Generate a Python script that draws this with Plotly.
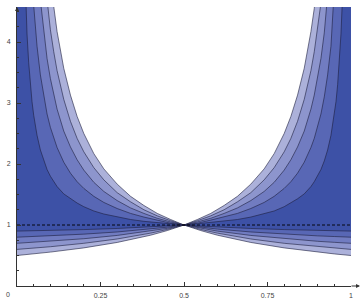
import plotly.graph_objects as go

# ---- data (left half; the chart is mirror-symmetric about x = 0.5) ----
LEVELS = [1.0, 0.8, 0.6, 0.4, 0.2]  # band labels, lightest (outer) to darkest (inner)

X_UP = [0, 0.01, 0.015, 0.02, 0.025, 0.03, 0.035, 0.04, 0.045, 0.05, 0.06, 0.07, 0.08,
        0.09, 0.10, 0.11, 0.12, 0.14, 0.16, 0.18, 0.20, 0.23, 0.26, 0.30, 0.34, 0.38,
        0.42, 0.46, 0.50]
UP_10 = [60, 50, 33.33, 25, 20, 16.67, 14.29, 12.5, 11.11, 10, 8.33, 7.14, 6.25, 5.56, 5.0,
         4.55, 4.17, 3.57, 3.13, 2.78, 2.5, 2.17, 1.92, 1.67, 1.47, 1.32, 1.19, 1.09, 1.0]
UP_08 = [60, 40.2, 26.87, 20.2, 16.2, 13.53, 11.63, 10.2, 9.09, 8.2, 6.87, 5.91, 5.2, 4.64,
         4.2, 3.84, 3.53, 3.06, 2.7, 2.42, 2.2, 1.94, 1.74, 1.53, 1.38, 1.25, 1.15, 1.07, 1.0]
UP_06 = [60, 30.4, 20.4, 15.4, 12.4, 10.4, 8.97, 7.9, 7.07, 6.4, 5.4, 4.69, 4.15, 3.73, 3.4,
         3.13, 2.9, 2.54, 2.28, 2.07, 1.9, 1.7, 1.55, 1.4, 1.28, 1.19, 1.11, 1.05, 1.0]
UP_04 = [60, 20.6, 13.93, 10.6, 8.6, 7.27, 6.31, 5.6, 5.04, 4.6, 3.93, 3.46, 3.1, 2.82, 2.6,
         2.42, 2.27, 2.03, 1.85, 1.71, 1.6, 1.47, 1.37, 1.27, 1.19, 1.13, 1.08, 1.03, 1.0]
UP_02 = [60, 10.8, 7.47, 5.8, 4.8, 4.13, 3.66, 3.3, 3.02, 2.8, 2.47, 2.23, 2.05, 1.91, 1.8,
         1.71, 1.63, 1.51, 1.43, 1.36, 1.3, 1.23, 1.18, 1.13, 1.09, 1.06, 1.04, 1.02, 1.0]

X_LO = [0, 0.05, 0.1, 0.2, 0.3, 0.4, 0.45, 0.5]
LO_10 = [0.5, 0.526, 0.556, 0.625, 0.714, 0.833, 0.909, 1.0]
LO_08 = [0.6, 0.621, 0.644, 0.7, 0.771, 0.867, 0.927, 1.0]
LO_06 = [0.7, 0.716, 0.733, 0.775, 0.829, 0.9, 0.945, 1.0]
LO_04 = [0.8, 0.811, 0.822, 0.85, 0.886, 0.933, 0.964, 1.0]
LO_02 = [0.9, 0.905, 0.911, 0.925, 0.943, 0.967, 0.982, 1.0]

UPPERS = [UP_10, UP_08, UP_06, UP_04, UP_02]
LOWERS = [LO_10, LO_08, LO_06, LO_04, LO_02]

REF_X = [0, 1]
REF_Y = [1, 1]

X_TICKS = [0, 0.25, 0.5, 0.75, 1]
X_TICK_TEXT = ["", "0.25", "0.5", "0.75", "1"]
Y_TICKS = [1, 2, 3, 4]
Y_TICK_TEXT = ["1", "2", "3", "4"]

# ---- styles ----
FILLS = ["rgb(172,177,218)", "rgb(141,149,205)", "rgb(113,124,193)",
         "rgb(88,103,181)", "rgb(61,81,166)"]
EDGE = "rgb(28,30,62)"
AXIS = "#333333"
FONT = dict(family="Liberation Sans, Arial, sans-serif", size=7, color="#444444")


def mirror(xs, ys):
    xf = list(xs) + [1 - x for x in reversed(xs[:-1])]
    yf = list(ys) + list(reversed(ys[:-1]))
    return xf, yf


fig = go.Figure()
for lvl, up, lo, col in zip(LEVELS, UPPERS, LOWERS, FILLS):
    xl, yl = mirror(X_LO, lo)
    xu, yu = mirror(X_UP, up)
    fig.add_trace(go.Scatter(x=xl, y=yl, mode="lines", line=dict(color=EDGE, width=0.6),
                             hoverinfo="skip", name=f"{lvl} lower"))
    fig.add_trace(go.Scatter(x=xu, y=yu, mode="lines", line=dict(color=EDGE, width=0.6),
                             fill="tonexty", fillcolor=col, hoverinfo="skip",
                             name=f"{lvl} upper"))

fig.add_trace(go.Scatter(x=REF_X, y=REF_Y, mode="lines",
                         line=dict(color="black", width=0.9, dash="3px,2px"),
                         hoverinfo="skip", name="ref"))

YMAX = 4.574

fig.update_layout(
    width=363, height=302,
    margin=dict(l=17, r=12, t=7, b=16, autoexpand=False),
    paper_bgcolor="white", plot_bgcolor="white",
    showlegend=False,
    font=FONT,
    xaxis=dict(range=[0, 1], showgrid=False, zeroline=False, showline=True,
               automargin=False,
               linecolor=AXIS, linewidth=1, ticks="inside", ticklen=4,
               tickcolor=AXIS, tickvals=X_TICKS, ticktext=X_TICK_TEXT,
               tickfont=FONT, ticklabelstandoff=3,
               minor=dict(dtick=0.05, tick0=0, ticks="inside", ticklen=2,
                          tickcolor=AXIS, showgrid=False)),
    yaxis=dict(range=[0, YMAX], showgrid=False, zeroline=False, showline=True,
               automargin=False,
               linecolor=AXIS, linewidth=1, ticks="inside", ticklen=4,
               tickcolor=AXIS, tickvals=Y_TICKS, ticktext=Y_TICK_TEXT,
               tickfont=FONT, ticklabelstandoff=4,
               minor=dict(dtick=0.25, tick0=0, ticks="inside", ticklen=2,
                          tickcolor=AXIS, showgrid=False)),
    annotations=[
        dict(x=1.027, y=0, ax=-10, ay=0, xref="paper", yref="paper",
             showarrow=True, arrowhead=2, arrowsize=0.8, arrowwidth=1, arrowcolor=AXIS,
             text=""),
        dict(x=0, y=1, ax=0, ay=6, xref="paper", yref="paper",
             showarrow=True, arrowhead=2, arrowsize=0.8, arrowwidth=1, arrowcolor=AXIS,
             text=""),
        dict(x=-0.026, y=-0.032, xref="paper", yref="paper", text="0", showarrow=False,
             xanchor="center", yanchor="middle", font=FONT),
    ],
)

fig.write_html("out.html")
